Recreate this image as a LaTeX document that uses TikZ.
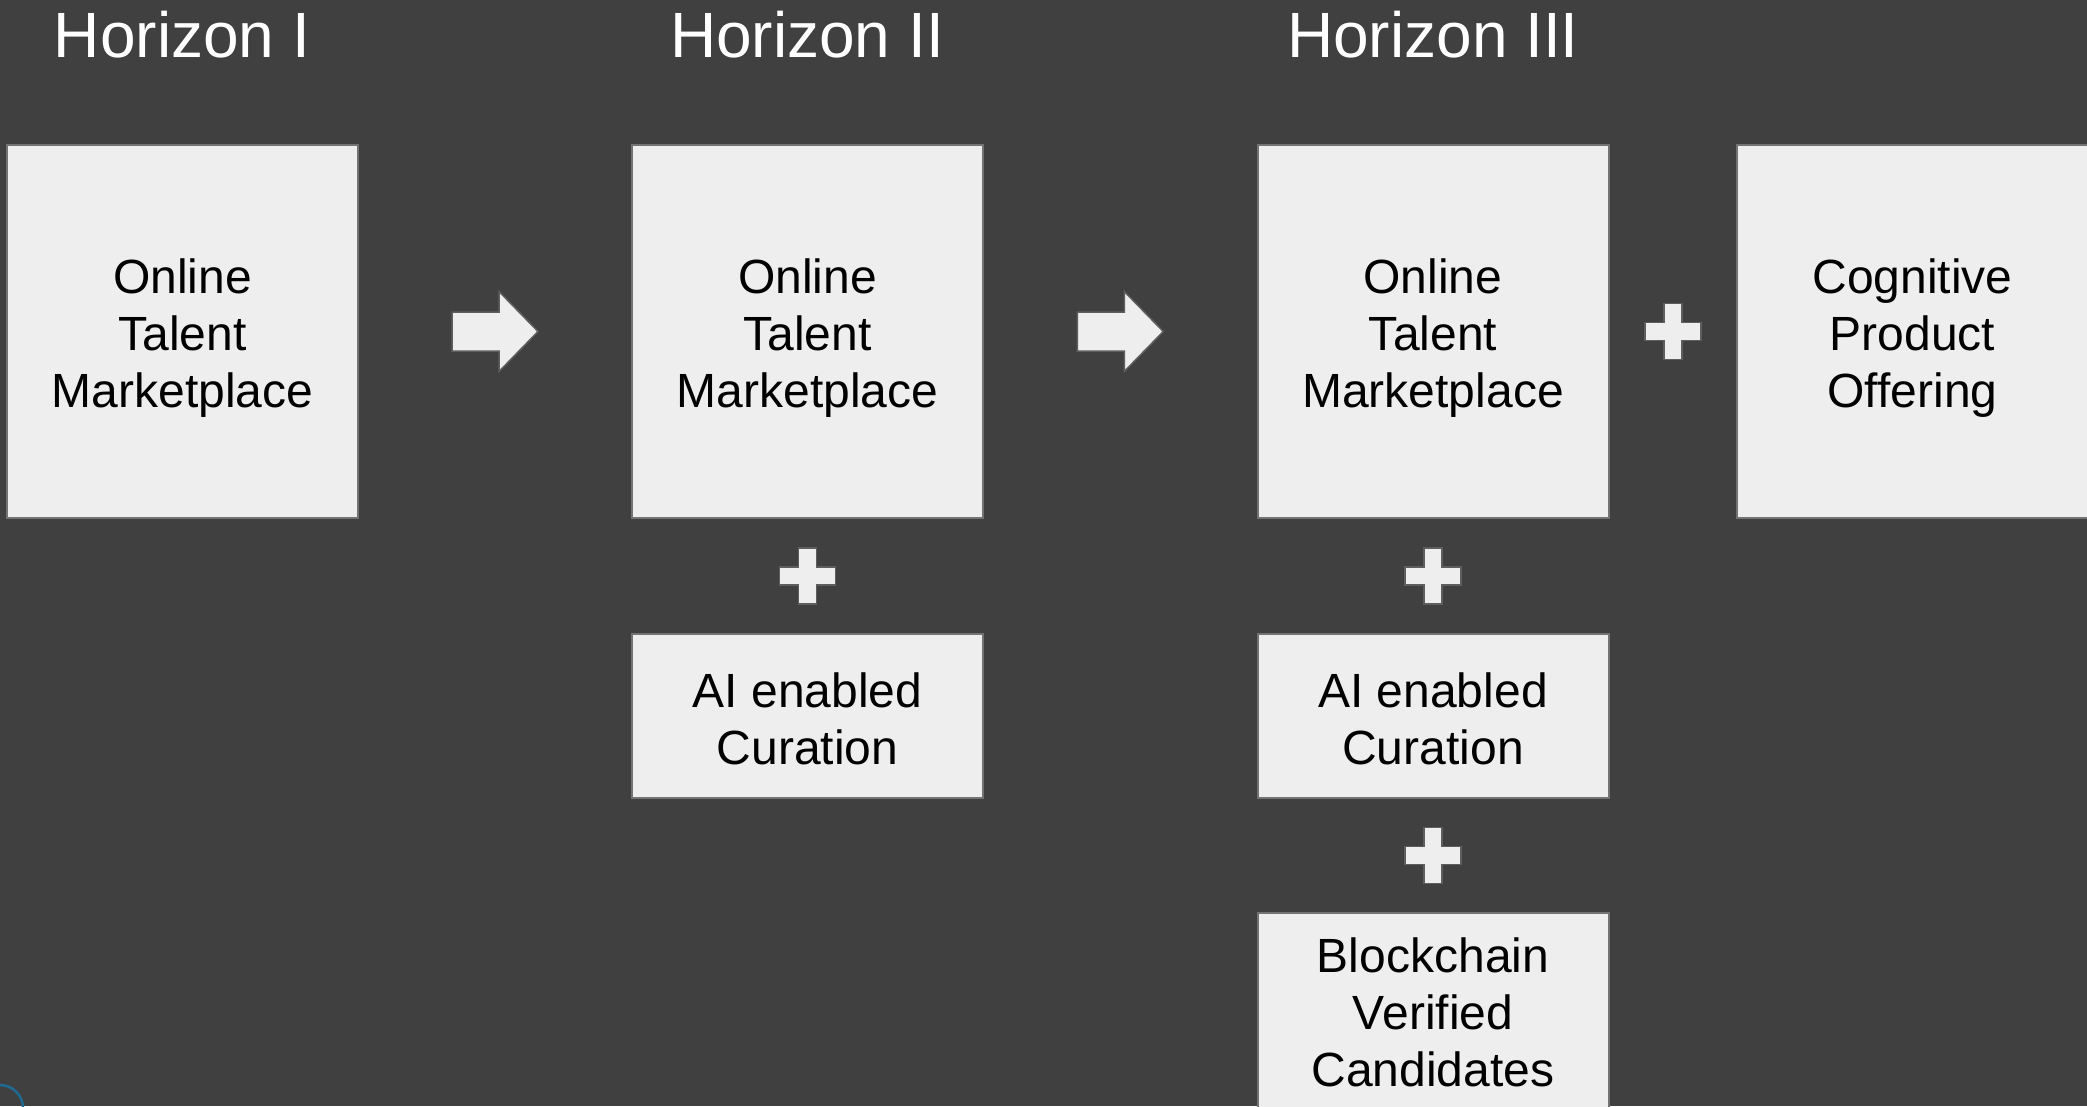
\documentclass[tikz,border=0pt]{standalone}
\usepackage{fontspec}
\setmainfont{Liberation Sans}
\usetikzlibrary{calc}
\definecolor{bg}{HTML}{404040}
\definecolor{boxfill}{HTML}{EEEEEE}
\definecolor{boxline}{HTML}{737373}
\definecolor{symline}{HTML}{5E5E5E}
\definecolor{logoblue}{HTML}{1E6A92}
\newcommand\hzstrut{\rule{0pt}{47pt}}
\newcommand\hzstrutb{\rule{0pt}{41pt}}
\tikzset{
  card/.style={draw=boxline, line width=2pt, fill=boxfill, inner sep=0pt,
    align=center, text=black, font=\fontsize{48}{57}\selectfont},
  htitle/.style={text=white, inner sep=0pt, anchor=base,
    font=\fontsize{64}{74}\selectfont},
  symshape/.style={fill=boxfill, draw=symline, line width=1.5pt, line join=miter},
  plussign/.pic={\path[symshape] (-9,-28) -- (9,-28) -- (9,-9) -- (28,-9) -- (28,9)
      -- (9,9) -- (9,28) -- (-9,28) -- (-9,9) -- (-28,9) -- (-28,-9) -- (-9,-9) -- cycle;},
  fatarrow/.pic={\path[symshape] (-43,-19.5) -- (4,-19.5) -- (4,-40) -- (43,0)
      -- (4,40) -- (4,19.5) -- (-43,19.5) -- cycle;}
}
\begin{document}
\begin{tikzpicture}[x=1pt,y=-1pt]
\useasboundingbox (0,0) rectangle (2087,1106);
\fill[bg] (0,0) rectangle (2087,1106);
\clip (0,0) rectangle (2087,1106);

% titles
\node[htitle] (t1) at (182,57) {Horizon I};
\node[htitle] (t2) at (807,57) {Horizon II};
\node[htitle] (t3) at (1433,57) {Horizon III};

% main boxes
\node[card, minimum width=351pt, minimum height=373pt] (b1) at (182.5,331.5) {\hzstrut Online\\Talent\\Marketplace};
\node[card, minimum width=351pt, minimum height=373pt] (b2) at (807.5,331.5) {\hzstrut Online\\Talent\\Marketplace};
\node[card, minimum width=351pt, minimum height=373pt] (b3) at (1433,331.5) {\hzstrut Online\\Talent\\Marketplace};
\node[card, minimum width=351pt, minimum height=373pt] (b4) at (1912.5,331.5) {\hzstrut Cognitive\\Product\\Offering};

% lower boxes
\node[card, minimum width=351pt, minimum height=164pt] (b2a) at (807.5,716) {\hzstrutb AI enabled\\Curation};
\node[card, minimum width=351pt, minimum height=164pt] (b3a) at (1433,716) {\hzstrutb AI enabled\\Curation};
\node[card, minimum width=351pt, minimum height=198pt] (b3b) at (1433,1012) {Blockchain\\Verified\\Candidates};

% arrows and plus signs
\pic at ($(b1.east)!0.5!(b2.west)$) {fatarrow};
\pic at ($(b2.east)!0.5!(b3.west)$) {fatarrow};
\pic at ($(b3.east)!0.5!(b4.west)$) {plussign};
\pic at ($(b2.south)!0.5!(b2a.north)$) {plussign};
\pic at ($(b3.south)!0.5!(b3a.north)$) {plussign};
\pic at ($(b3a.south)!0.5!(b3b.north)$) {plussign};

% faint logo remnant at bottom left
\draw[logoblue, line width=2.5pt] (0,1108) circle (23);
\end{tikzpicture}
\end{document}
